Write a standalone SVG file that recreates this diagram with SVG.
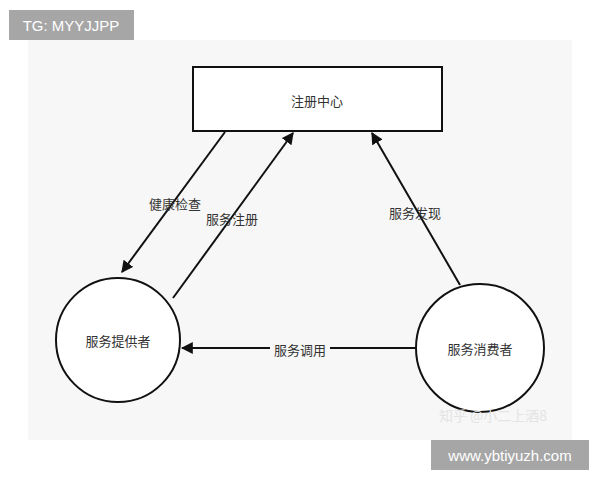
<svg xmlns="http://www.w3.org/2000/svg" width="600" height="480" viewBox="0 0 600 480">
<style>
text{font-family:"Noto Sans CJK SC","Liberation Sans",sans-serif;font-size:13px;fill:#333;text-anchor:middle;dominant-baseline:central}
.n{fill:#fff;stroke:#111;stroke-width:2}
.e{stroke:#111;stroke-width:2;fill:none;marker-end:url(#a)}
.tag{fill:#a6a6a6}
.tt{fill:#fff;font-family:"Liberation Sans",sans-serif;font-size:15px}
</style>
<defs><marker id="a" viewBox="0 0 10 10" refX="9" refY="5" markerWidth="12" markerHeight="12" orient="auto" markerUnits="userSpaceOnUse"><path d="M0,0L10,5L0,10z" fill="#111"/></marker></defs>
<rect width="600" height="480" fill="#fff"/>
<rect x="28" y="40" width="544" height="400" fill="#f7f7f7"/>
<g id="connectors">
<line class="e" x1="225" y1="132" x2="122" y2="272"/>
<line class="e" x1="173" y1="298" x2="293" y2="133"/>
<line class="e" x1="460" y1="285" x2="372" y2="133"/>
<line class="e" x1="415" y1="348" x2="182" y2="348"/>
<text x="175" y="203">健康检查</text>
<text x="232" y="218">服务注册</text>
<text x="415" y="212">服务发现</text>
<rect x="270" y="340" width="60" height="18" fill="#f7f7f7"/>
<text x="300" y="349">服务调用</text>
</g>
<g id="registry"><rect class="n" x="193" y="67" width="249" height="64"/><text x="317" y="100">注册中心</text></g>
<g id="provider"><circle class="n" cx="118" cy="340" r="62"/><text x="118" y="340">服务提供者</text></g>
<g id="consumer"><circle class="n" cx="480" cy="348" r="64"/><text x="480" y="348">服务消费者</text></g>
<text x="493" y="415" style="fill:#e4e4e4;font-size:14px">知乎 @小二上酒8</text>
<rect class="tag" x="9" y="10" width="125" height="30"/><text class="tt" x="71" y="25">TG: MYYJJPP</text>
<rect class="tag" x="431" y="440" width="158" height="30"/><text class="tt" x="510" y="455">www.ybtiyuzh.com</text>
</svg>
